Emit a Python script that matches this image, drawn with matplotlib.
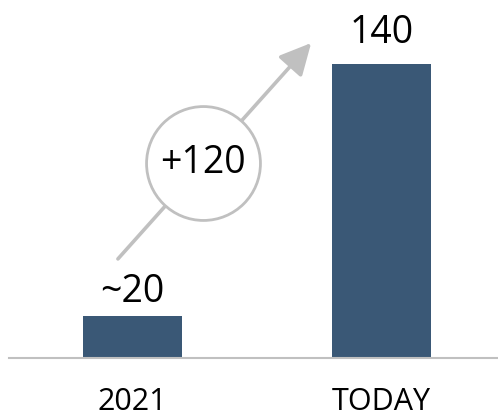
import matplotlib.pyplot as plt
from matplotlib.patches import FancyArrowPatch

plt.rcParams['font.family'] = ['Open Sans', 'DejaVu Sans']

categories = ["2021", "TODAY"]
values = [20, 140]
value_labels = ["~20", "140"]
change_label = "+120"

bar_color = "#3a5876"
grey = "#c0c0c0"

fig = plt.figure(figsize=(4.98, 4.17), dpi=100)
ax = fig.add_axes([9 / 498, 59 / 417, 488 / 498, 358 / 417])

x = range(len(categories))
ax.bar(x, values, width=0.4, color=bar_color, zorder=2)

# value labels above bars
offsets = [10, 15.5]
for i, v in enumerate(values):
    ax.annotate(value_labels[i], (i, v), xytext=(0, offsets[i]), textcoords="offset points",
                ha="center", va="baseline", fontsize=27, color="black")

ax.set_xlim(-0.496, 1.464)
ax.set_ylim(0, 170.5)

# growth arrow with circled delta
arrow = FancyArrowPatch((-0.066, 46.2), (0.725, 151.0), arrowstyle="-|>,head_length=12,head_width=6",
                        mutation_scale=1.6, color=grey, lw=2.6, zorder=3)
ax.add_patch(arrow)
ax.plot([0.283], [92.9], marker="o", markersize=82, markerfacecolor="white",
        markeredgecolor=grey, markeredgewidth=2, zorder=4)
ax.text(0.283, 92.9, change_label, ha="center", va="center", fontsize=27, zorder=5)

for s in ["top", "right", "left"]:
    ax.spines[s].set_visible(False)
ax.spines["bottom"].set_color(grey)
ax.spines["bottom"].set_linewidth(1.5)
ax.set_yticks([])
ax.set_xticks(list(x))
ax.set_xticklabels(categories, fontsize=22)
ax.tick_params(axis="x", length=0, pad=21)

fig.savefig("out.png", dpi=100)
